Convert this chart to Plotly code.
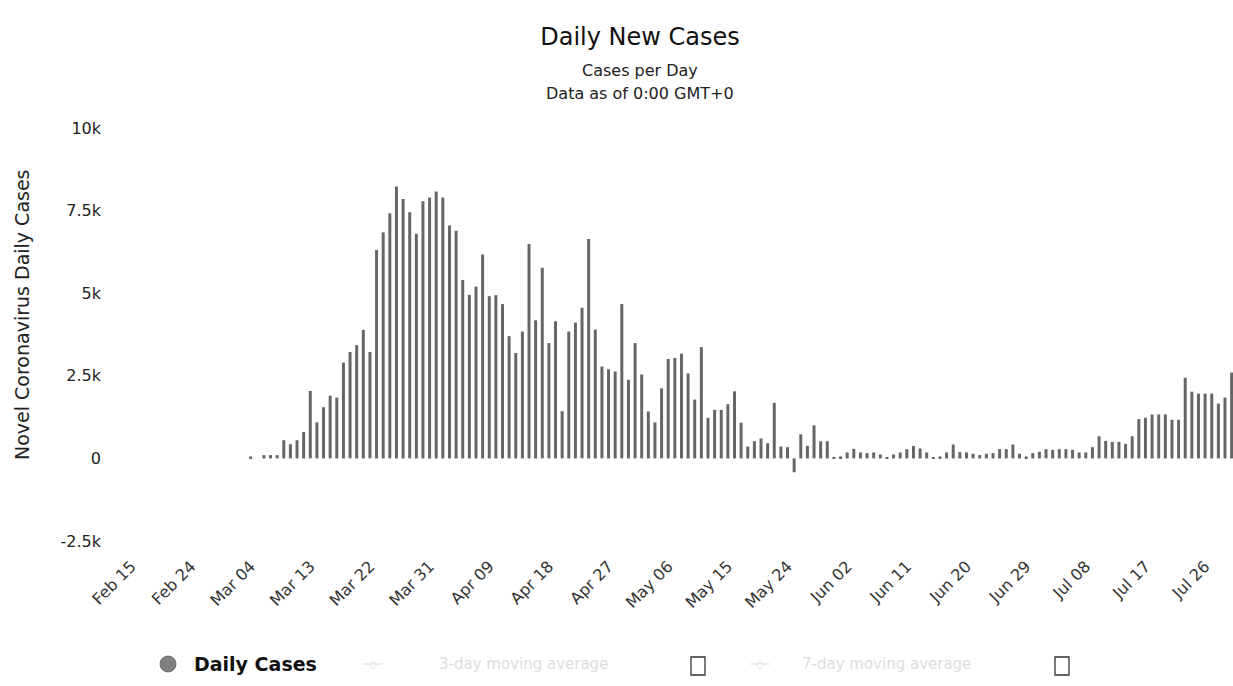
import pandas as pd
import plotly.graph_objects as go

# ---- data ----
start_date = "2020-03-04"
daily_cases = [
    60, 0, 100, 100, 100, 550, 430, 550, 800, 2040,
    1090, 1550, 1900, 1840, 2900, 3220, 3430, 3890, 3220, 6310,
    6840, 7420, 8230, 7850, 7450, 6800, 7780, 7900, 8080, 7900,
    7050, 6890, 5400, 4950, 5200, 6170, 4910, 4940, 4670, 3700,
    3190, 3840, 6490, 4180, 5770, 3490, 4150, 1430, 3840, 4110,
    4560, 6640, 3900, 2780, 2700, 2630, 4670, 2380, 3490, 2540,
    1420, 1090, 2120, 3010, 3040, 3170, 2570, 1780, 3370, 1230,
    1470, 1470, 1640, 2030, 1080, 360, 520, 600, 460, 1680,
    360, 340, -420, 730, 380, 1000, 520, 520, 40, 60,
    180, 290, 180, 160, 180, 120, 40, 120, 180, 280,
    380, 300, 180, 40, 60, 180, 420, 190, 180, 140,
    100, 140, 160, 280, 280, 420, 140, 60, 160, 200,
    280, 260, 280, 280, 260, 180, 180, 340, 670, 530,
    500, 500, 440, 670, 1190, 1230, 1330, 1330, 1330, 1170,
    1170, 2440, 2020, 1960, 1960, 1960, 1660, 1840, 2600,
]
dates = pd.date_range(start_date, periods=len(daily_cases), freq="D")

y_tick_vals = [-2500, 0, 2500, 5000, 7500, 10000]
y_tick_text = ["-2.5k", "0", "2.5k", "5k", "7.5k", "10k"]
x_first_tick = "2020-02-15"
x_tick_step_days = 9

title_text = "Daily New Cases"
subtitle_lines = ["Cases per Day", "Data as of 0:00 GMT+0"]
y_title = "Novel Coronavirus Daily Cases"
legend_items = ["Daily Cases", "3-day moving average", "7-day moving average"]

# ---- geometry ----
W, H = 1233, 686
L, R, T, B = 128, 0, 128, 145
plot_w = W - L - R
plot_h = H - T - B

def px_x(px):
    return (px - L) / plot_w

def px_y(py):
    return (H - B - py) / plot_h

font_family = "DejaVu Sans, Verdana, sans-serif"
DAY_MS = 86400000

fig = go.Figure()
fig.add_trace(go.Bar(
    x=dates, y=daily_cases,
    width=0.45 * DAY_MS,
    marker=dict(color="#666666", line=dict(width=0)),
    name=legend_items[0],
    showlegend=False,
))

fig.update_layout(
    width=W, height=H,
    margin=dict(l=L, r=R, t=T, b=B, pad=0),
    paper_bgcolor="white", plot_bgcolor="white",
    font=dict(family=font_family, color="#222"),
    showlegend=False,
    title=dict(
        text=title_text, x=640 / W, xanchor="center",
        y=1 - 37 / H, yanchor="middle", yref="container",
        font=dict(size=24, color="#111", family=font_family),
    ),
    xaxis=dict(
        type="date",
        range=["2020-02-14 12:00", "2020-07-30 05:00"],
        tick0=x_first_tick, dtick=x_tick_step_days * DAY_MS,
        tickformat="%b %d", tickangle=-45,
        tickfont=dict(size=16, color="#333"),
        showgrid=False, zeroline=False, showline=False,
        ticks="", ticklabelstandoff=12,
        fixedrange=True,
    ),
    yaxis=dict(
        range=[-2500, 10000],
        tickvals=y_tick_vals, ticktext=y_tick_text,
        tickfont=dict(size=16, color="#222"),
        showgrid=False, zeroline=False, showline=False,
        ticks="", ticklabelstandoff=26,
    ),
)

# y-axis title
fig.add_annotation(
    text=y_title, xref="paper", yref="paper",
    x=px_x(22), y=px_y(315), xanchor="center", yanchor="middle",
    textangle=-90, showarrow=False,
    font=dict(size=19, color="#222", family=font_family),
)

# subtitles
for line, py in zip(subtitle_lines, [70, 93]):
    fig.add_annotation(
        text=line, xref="paper", yref="paper",
        x=px_x(640), y=px_y(py), xanchor="center", yanchor="middle",
        showarrow=False, font=dict(size=16, color="#222", family=font_family),
    )

# legend (drawn manually)
leg_y = 664
fig.add_shape(
    type="circle", xref="paper", yref="paper",
    xsizemode="pixel", ysizemode="pixel",
    xanchor=px_x(168), yanchor=px_y(leg_y),
    x0=-8, x1=8, y0=-8, y1=8,
    fillcolor="#808080", line=dict(color="#707070", width=1),
)
fig.add_annotation(
    text="<b>" + legend_items[0] + "</b>", xref="paper", yref="paper",
    x=px_x(192), y=px_y(leg_y), xanchor="left", yanchor="middle",
    showarrow=False, font=dict(size=19, color="#111", family=font_family),
)
faint = "#dddddd"
for sym_x, txt_x, box_x, txt in [
    (373, 437, 698, legend_items[1]),
    (760, 800, 1062, legend_items[2]),
]:
    fig.add_shape(
        type="line", xref="paper", yref="paper",
        x0=px_x(sym_x - 10), x1=px_x(sym_x + 10),
        y0=px_y(leg_y), y1=px_y(leg_y),
        line=dict(color=faint, width=1),
    )
    fig.add_annotation(
        text="◇", xref="paper", yref="paper",
        x=px_x(sym_x), y=px_y(leg_y), xanchor="center", yanchor="middle",
        showarrow=False, font=dict(size=11, color=faint),
    )
    fig.add_annotation(
        text=txt, xref="paper", yref="paper",
        x=px_x(txt_x), y=px_y(leg_y), xanchor="left", yanchor="middle",
        showarrow=False, font=dict(size=15, color=faint, family=font_family),
    )
    fig.add_shape(
        type="rect", xref="paper", yref="paper",
        xsizemode="pixel", ysizemode="pixel",
        xanchor=px_x(box_x), yanchor=px_y(leg_y + 2),
        x0=-7, x1=7, y0=-9, y1=9,
        line=dict(color="#333", width=1.3), fillcolor="white",
    )

fig.write_html(
    "out.html",
    config={"displayModeBar": False},
    post_script="document.body.style.margin='0';document.body.style.overflow='hidden';",
)
